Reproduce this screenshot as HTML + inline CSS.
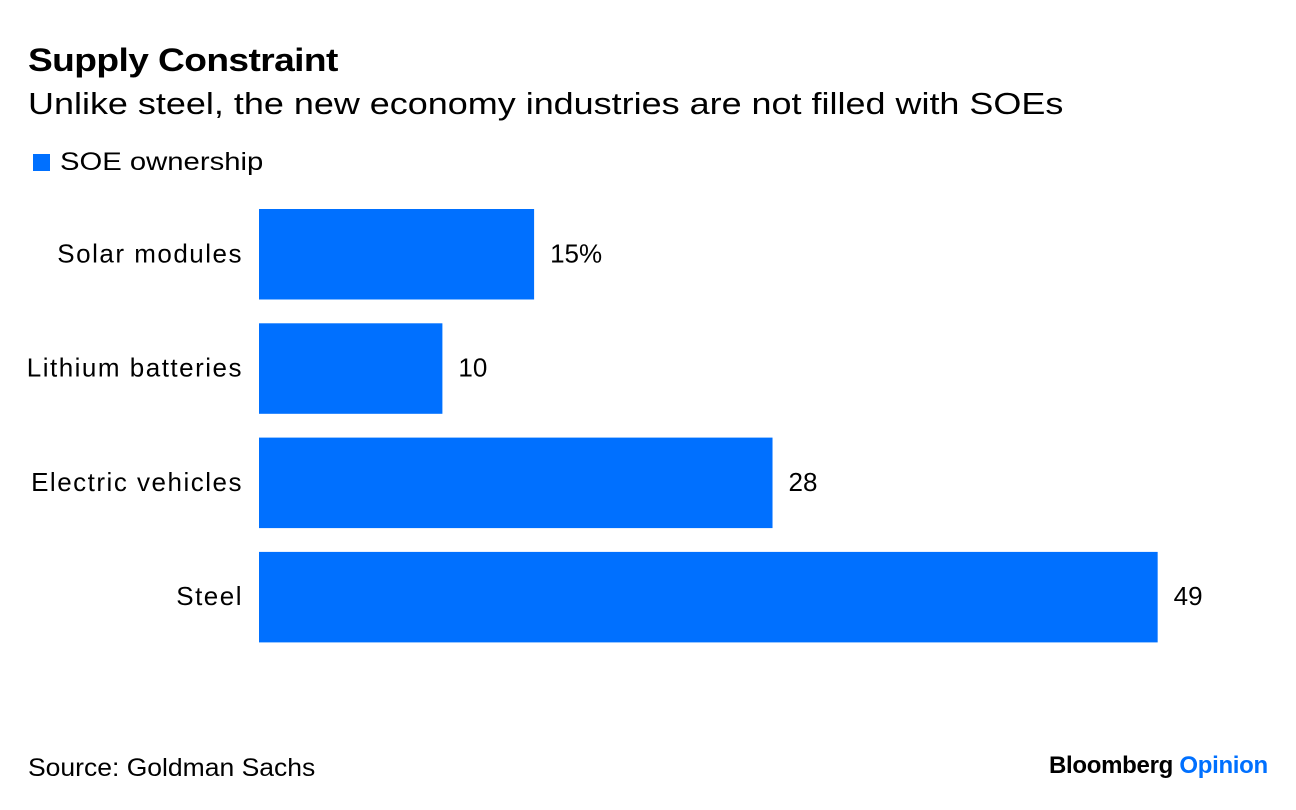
<!DOCTYPE html>
<html><head><meta charset="utf-8"><style>
body{margin:0;width:1296px;height:810px;background:#fff;font-family:"Liberation Sans",sans-serif;position:relative;overflow:hidden;color:#000}
.t{position:absolute;white-space:nowrap;transform-origin:0 0}
</style></head><body>
<div class="t" style="left:28px;top:42px;font-size:32px;font-weight:bold;letter-spacing:-0.5px;transform:scaleX(1.16)">Supply Constraint</div>
<div class="t" style="left:28px;top:86px;font-size:31px;transform:scaleX(1.16)">Unlike steel, the new economy industries are not filled with SOEs</div>
<div class="t" style="left:33px;top:148px;font-size:25px"><span style="display:inline-block;width:17px;height:17px;background:#0070ff;margin-right:10px;vertical-align:-1px"></span><span style="display:inline-block;transform:scaleX(1.17);transform-origin:0 0">SOE ownership</span></div>
<svg id="chart" width="1296" height="810" style="position:absolute;left:0;top:0"></svg>
<div class="t" style="left:28px;top:754px;font-size:25px;transform:scaleX(1.06)">Source: Goldman Sachs</div>
<div class="t" style="left:1049px;top:752px;font-size:24px;font-weight:bold;letter-spacing:-0.3px">Bloomberg <span style="color:#0070ff">Opinion</span></div>
<script>
const categories=["Solar modules","Lithium batteries","Electric vehicles","Steel"];
const values=[15,10,28,49];
const valueLabels=["15%","10","28","49"];
const svg=document.getElementById('chart');
const NS="http://www.w3.org/2000/svg";
const x0=259, unit=18.34;
const xs=v=>x0+v*unit;
const ys=i=>209+i*114.3;
const bh=90.5;
categories.forEach((c,i)=>{
  const r=document.createElementNS(NS,'rect');
  r.setAttribute('x',x0);r.setAttribute('y',ys(i));
  r.setAttribute('width',xs(values[i])-x0);r.setAttribute('height',bh);
  r.setAttribute('fill','#0070ff');
  
  
  svg.appendChild(r);
  const l=document.createElementNS(NS,'text');
  l.setAttribute('x',243);l.setAttribute('y',ys(i)+bh/2+8);
  l.setAttribute('text-anchor','end');l.setAttribute('font-size','26');
  l.setAttribute('letter-spacing','1.5');
  l.setAttribute('font-family','Liberation Sans, sans-serif');
  l.textContent=c;
  
  
  svg.appendChild(l);
  const v=document.createElementNS(NS,'text');
  v.setAttribute('x',xs(values[i])+16);v.setAttribute('y',ys(i)+bh/2+8);
  v.setAttribute('font-size','26');
  v.setAttribute('font-family','Liberation Sans, sans-serif');
  v.textContent=valueLabels[i];
  
  
  svg.appendChild(v);
});
</script>
</body></html>
